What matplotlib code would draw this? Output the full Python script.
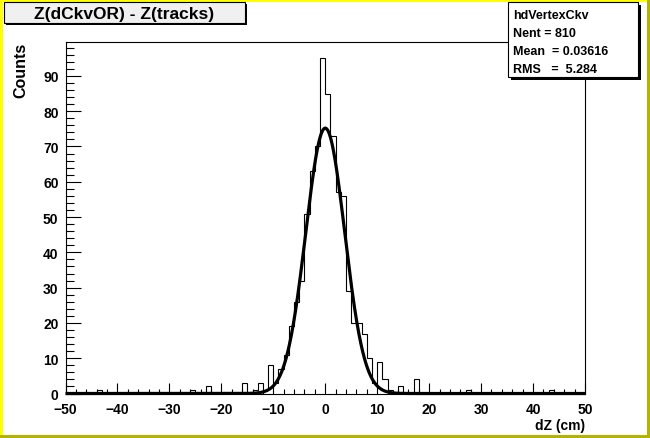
import numpy as np
import matplotlib
matplotlib.use("Agg")
import matplotlib.pyplot as plt
from matplotlib.patches import Rectangle
from matplotlib.ticker import MultipleLocator

plt.rcParams['font.family'] = ['Liberation Sans', 'DejaVu Sans']
plt.rcParams['font.weight'] = 'bold'

W, H = 650, 439

# hdVertexCkv: 100 bins of 1 cm from -50 to 50, only the non-empty bins
bin_low = [-44, -26, -23, -16, -14, -13, -12, -11, -10, -9, -8, -7, -6, -5, -4, -3, -2, -1,
           0, 1, 2, 3, 4, 5, 6, 7, 8, 9, 10, 11, 12, 14, 17, 27, 43]
bin_counts = [1, 1, 2, 3, 1, 3, 1, 8, 3, 7, 11, 19, 26, 32, 51, 63, 70, 95,
              85, 73, 57, 56, 29, 20, 20, 17, 10, 3, 9, 4, 1, 2, 4, 1, 1]

# gaussian fit
fit_const = 75.2
fit_mean = 0.0
fit_sigma = 3.75

title = "Z(dCkvOR) - Z(tracks)"
stats_lines = ["hdVertexCkv", "Nent = 810", "Mean  = 0.03616", "RMS   =  5.284"]
x_title = "dZ (cm)"
y_title = "Counts"


def fx(x):
    return x / W


def fy(y):
    return 1 - y / H


def px_rect(x0, y0, x1, y1, **kw):
    # rectangle given in pixel coords (y down)
    return Rectangle((fx(x0), fy(y1)), (x1 - x0) / W, (y1 - y0) / H,
                     transform=fig.transFigure, **kw)


fig = plt.figure(figsize=(W / 100, H / 100), dpi=100)
fig.patch.set_facecolor('#ffff00')

# canvas bevel, kept behind the axes
fig.patches.append(px_rect(W - 3, 0, W, H, facecolor='#b3b300', edgecolor='none', zorder=-10))
fig.patches.append(px_rect(0, H - 3, W, H, facecolor='#b3b300', edgecolor='none', zorder=-10))
fig.patches.append(px_rect(3, 3, W - 3, H - 3, facecolor='white', edgecolor='none', zorder=-9))

ax = fig.add_axes([fx(65.5), fy(394.5), (585 - 65.5) / W, (394.5 - 42.5) / H])
ax.set_facecolor('none')

edges = np.arange(-50, 51, 1)
counts = np.zeros(len(edges) - 1)
for lo, c in zip(bin_low, bin_counts):
    counts[lo + 50] = c
ax.stairs(counts, edges, color='black', lw=0.8)

xs = np.linspace(-50, 50, 2001)
ax.plot(xs, fit_const * np.exp(-0.5 * ((xs - fit_mean) / fit_sigma) ** 2),
        color='black', lw=2.3, clip_on=False, solid_capstyle='butt')

ax.set_xlim(-50, 50)
ax.set_ylim(0, 99.75)
ax.xaxis.set_major_locator(MultipleLocator(10))
ax.xaxis.set_minor_locator(MultipleLocator(2))
ax.yaxis.set_major_locator(MultipleLocator(10))
ax.yaxis.set_minor_locator(MultipleLocator(2))
ax.tick_params(axis='both', which='both', direction='in', top=False, right=False,
               width=0.8, labelsize=10)
ax.tick_params(axis='x', which='major', length=7.6, pad=6)
ax.tick_params(axis='x', which='minor', length=3.8)
ax.tick_params(axis='y', which='major', length=10.8, pad=5)
ax.tick_params(axis='y', which='minor', length=5.4)
for s in ax.spines.values():
    s.set_linewidth(0.8)

fig.text(fx(585), fy(426), x_title, ha='right', va='center', fontsize=10)
fig.text(fx(21), fy(43), y_title, ha='center', va='top', rotation=90, fontsize=11.5)

# title box
fig.patches.append(px_rect(6, 5, 247, 26, facecolor='black', edgecolor='none', zorder=5))
fig.patches.append(px_rect(4, 3, 245, 24, facecolor='#f0f0f0', edgecolor='black', lw=0.8, zorder=5))
fig.text(fx(124.5), fy(14), title, ha='center', va='center', fontsize=12.5, zorder=6)

# stats box
fig.patches.append(px_rect(510.5, 5.5, 640.5, 80.5, facecolor='black', edgecolor='none', zorder=5))
fig.patches.append(px_rect(508, 3, 638, 78, facecolor='white', edgecolor='black', lw=0.8, zorder=5))
for i, line in enumerate(stats_lines):
    fig.text(fx(513), fy(16 + 18 * i), line, ha='left', va='center', fontsize=9, zorder=6)

fig.savefig('out.png', dpi=100, facecolor=fig.get_facecolor())
